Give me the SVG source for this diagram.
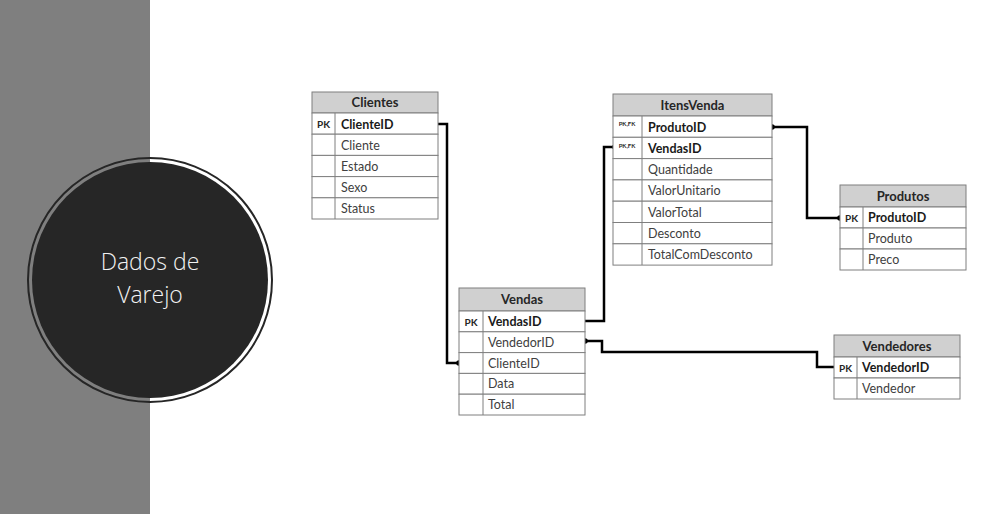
<svg xmlns="http://www.w3.org/2000/svg" width="1008" height="514" viewBox="0 0 1008 514">
<defs>
<style>
.bg{fill:#ffffff}
.side{fill:#7f7f7f}
.hdr{fill:#d0d0d0;stroke:#7f7f7f;stroke-width:1}
.row{fill:#ffffff;stroke:#7f7f7f;stroke-width:1}
.div{stroke:#7f7f7f;stroke-width:1}
.ht{font-family:Lato,"Liberation Sans",sans-serif;font-size:13px;font-weight:bold;fill:#262626;text-anchor:middle}
.pk{font-family:Lato,"Liberation Sans",sans-serif;font-size:10px;font-weight:bold;fill:#262626;text-anchor:middle}
.pkfk{font-family:Lato,"Liberation Sans",sans-serif;font-size:6px;font-weight:bold;fill:#262626;text-anchor:middle}
.fb{font-family:Lato,"Liberation Sans",sans-serif;font-size:12.5px;font-weight:bold;fill:#1a1a1a}
.f{font-family:Lato,"Liberation Sans",sans-serif;font-size:12.5px;fill:#404040}
.conn{fill:none;stroke:#000000;stroke-width:2.5;stroke-linejoin:miter}
.title{font-family:"Open Sans","Noto Sans",sans-serif;font-weight:300;font-size:23px;fill:#f2f2f2;text-anchor:middle}
</style>
<marker id="dot" markerUnits="userSpaceOnUse" markerWidth="8" markerHeight="8" refX="4" refY="4" viewBox="0 0 8 8">
<circle cx="4" cy="4" r="2.8" fill="#000000"/>
</marker>
</defs>
<rect class="bg" x="0" y="0" width="1008" height="514"/>
<rect class="side" x="0" y="0" width="150" height="514"/>

<g id="title">
<circle cx="150" cy="280" r="122" fill="none" stroke="#262626" stroke-width="2"/>
<circle cx="150" cy="280" r="118" fill="#262626"/>
<text class="title" x="150" y="270">Dados de</text>
<text class="title" x="150" y="303">Varejo</text>
</g>

<g id="connectors">
<polyline class="conn" points="438,124 447,124 447,363 459,363" marker-end="url(#dot)"/>
<polyline class="conn" points="585,321 604,321 604,147 615,147" marker-end="url(#dot)"/>
<polyline class="conn" points="772,127 807,127 807,218 840,218" marker-start="url(#dot)" marker-end="url(#dot)"/>
<polyline class="conn" points="585,341 602,341 602,352 817,352 817,367 834,367" marker-start="url(#dot)"/>
</g>

<g id="clientes">
<rect class="hdr" x="312" y="92" width="126" height="21"/>
<text class="ht" x="375" y="107">Clientes</text>
<rect class="row" x="312" y="113" width="126" height="21.2"/>
<rect class="row" x="312" y="134.2" width="126" height="21.2"/>
<rect class="row" x="312" y="155.4" width="126" height="21.2"/>
<rect class="row" x="312" y="176.6" width="126" height="21.2"/>
<rect class="row" x="312" y="197.8" width="126" height="21.2"/>
<line class="div" x1="335" y1="113" x2="335" y2="219"/>
<text class="pk" x="323.5" y="128">PK</text>
<text class="fb" x="341" y="128.5">ClienteID</text>
<text class="f" x="341" y="149.5">Cliente</text>
<text class="f" x="341" y="170.5">Estado</text>
<text class="f" x="341" y="191.5">Sexo</text>
<text class="f" x="341" y="213">Status</text>
</g>

<g id="itensvenda">
<rect class="hdr" x="613" y="94" width="159" height="22"/>
<text class="ht" x="692.5" y="109.5">ItensVenda</text>
<rect class="row" x="613" y="116" width="159" height="21.3"/>
<rect class="row" x="613" y="137.3" width="159" height="21.3"/>
<rect class="row" x="613" y="158.6" width="159" height="21.3"/>
<rect class="row" x="613" y="179.9" width="159" height="21.3"/>
<rect class="row" x="613" y="201.2" width="159" height="21.3"/>
<rect class="row" x="613" y="222.5" width="159" height="21.3"/>
<rect class="row" x="613" y="243.8" width="159" height="21.3"/>
<line class="div" x1="642" y1="116" x2="642" y2="265"/>
<text class="pkfk" x="627" y="126">PK,FK</text>
<text class="pkfk" x="627" y="147.5">PK,FK</text>
<text class="fb" x="648" y="131.5">ProdutoID</text>
<text class="fb" x="648" y="152.5">VendasID</text>
<text class="f" x="648" y="174">Quantidade</text>
<text class="f" x="648" y="195">ValorUnitario</text>
<text class="f" x="648" y="216.5">ValorTotal</text>
<text class="f" x="648" y="237.5">Desconto</text>
<text class="f" x="648" y="259">TotalComDesconto</text>
</g>

<g id="vendas">
<rect class="hdr" x="459" y="288" width="126" height="23"/>
<text class="ht" x="522" y="304">Vendas</text>
<rect class="row" x="459" y="311" width="126" height="20.8"/>
<rect class="row" x="459" y="331.8" width="126" height="20.8"/>
<rect class="row" x="459" y="352.6" width="126" height="20.8"/>
<rect class="row" x="459" y="373.4" width="126" height="20.8"/>
<rect class="row" x="459" y="394.2" width="126" height="20.8"/>
<line class="div" x1="483" y1="311" x2="483" y2="415"/>
<text class="pk" x="471" y="325.5">PK</text>
<text class="fb" x="488" y="326">VendasID</text>
<text class="f" x="488" y="346.5">VendedorID</text>
<text class="f" x="488" y="367.5">ClienteID</text>
<text class="f" x="488" y="388">Data</text>
<text class="f" x="488" y="409">Total</text>
</g>

<g id="produtos">
<rect class="hdr" x="840" y="185" width="126" height="22"/>
<text class="ht" x="903" y="200.5">Produtos</text>
<rect class="row" x="840" y="207" width="126" height="21"/>
<rect class="row" x="840" y="228" width="126" height="21"/>
<rect class="row" x="840" y="249" width="126" height="21"/>
<line class="div" x1="863" y1="207" x2="863" y2="270"/>
<text class="pk" x="851.5" y="221.5">PK</text>
<text class="fb" x="868" y="222">ProdutoID</text>
<text class="f" x="868" y="243">Produto</text>
<text class="f" x="868" y="264">Preco</text>
</g>

<g id="vendedores">
<rect class="hdr" x="834" y="335" width="126" height="22"/>
<text class="ht" x="897" y="350.5">Vendedores</text>
<rect class="row" x="834" y="357" width="126" height="21"/>
<rect class="row" x="834" y="378" width="126" height="21"/>
<line class="div" x1="857" y1="357" x2="857" y2="399"/>
<text class="pk" x="845.5" y="371.5">PK</text>
<text class="fb" x="862" y="372">VendedorID</text>
<text class="f" x="862" y="393">Vendedor</text>
</g>
</svg>
